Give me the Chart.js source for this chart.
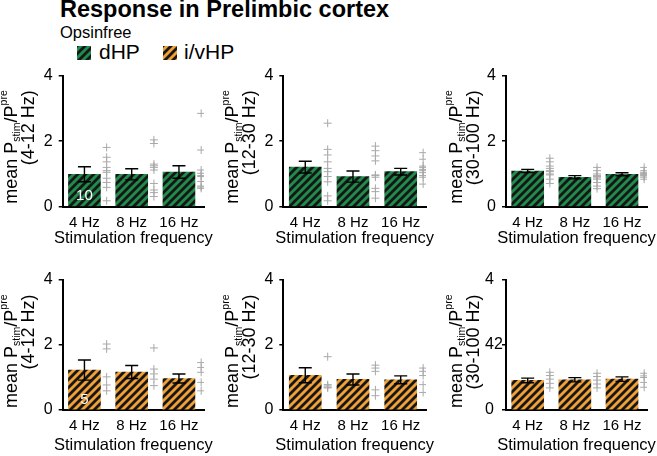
<!DOCTYPE html>
<html>
<head>
<meta charset="utf-8">
<script src="https://cdn.jsdelivr.net/npm/chart.js@4.4.0/dist/chart.umd.min.js"></script>
<style>
  body { margin: 0; width: 657px; height: 456px; background: #fff; position: relative; overflow: hidden;
         font-family: "Liberation Sans", Arial, sans-serif; color: #000; }
  .txt { position: absolute; white-space: nowrap; }
  #title { left: 60px; top: -3px; font-size: 23.5px; line-height: 24px; font-weight: bold; }
  #group { left: 60px; top: 24px; font-size: 16.5px; line-height: 16px; }
  .lg { top: 41px; font-size: 21px; line-height: 21px; }
  canvas { position: absolute; }
</style>
</head>
<body>
<div class="txt" id="title">Response in Prelimbic cortex</div>
<div class="txt" id="group">Opsinfree</div>
<canvas id="sw0" width="14" height="14" style="left:77px;top:46px"></canvas>
<div class="txt lg" style="left:99px">dHP</div>
<canvas id="sw1" width="14" height="14" style="left:163px;top:46px"></canvas>
<div class="txt lg" style="left:184px">i/vHP</div>

<canvas id="c0"></canvas><canvas id="c1"></canvas><canvas id="c2"></canvas>
<canvas id="c3"></canvas><canvas id="c4"></canvas><canvas id="c5"></canvas>

<script>
const freqLabels = ["4 Hz", "8 Hz", "16 Hz"];
const bandLabels = ["(4-12 Hz)", "(12-30 Hz)", "(30-100 Hz)"];
const xTitle = "Stimulation frequency";
const yTicks = [0, 2, 4];
const yTickText = ["0", "2", "4"];
const yTickTextLast = ["0", "42", "4"]; // printed like this in the last panel
const groupNames = ["dHP", "i/vHP"];
const groupN = ["10", "5"];

// bar means and SEM, order 4 / 8 / 16 Hz
const dhpLowMean = [0.99, 0.99, 1.06];
const dhpLowSem = [0.23, 0.17, 0.19];
const dhpBetaMean = [1.21, 0.92, 1.07];
const dhpBetaSem = [0.18, 0.17, 0.10];
const dhpGammaMean = [1.09, 0.90, 0.99];
const dhpGammaSem = [0.05, 0.05, 0.045];
const ivhpLowMean = [1.23, 1.17, 0.97];
const ivhpLowSem = [0.31, 0.20, 0.14];
const ivhpBetaMean = [1.07, 0.94, 0.93];
const ivhpBetaSem = [0.23, 0.17, 0.12];
const ivhpGammaMean = [0.91, 0.93, 0.95];
const ivhpGammaSem = [0.07, 0.065, 0.07];

// single animals
const dhpLowPts = [
  [1.81, 1.51, 1.37, 1.20, 1.10, 1.05, 0.87, 0.74, 0.59, 0.18],
  [2.04, 1.93, 1.30, 1.25, 1.20, 1.12, 0.71, 0.51, 0.43, 0.31],
  [2.85, 1.73, 1.12, 1.02, 0.95, 0.92, 0.77, 0.63, 0.60, 0.56]
];
const dhpBetaPts = [
  [2.55, 1.75, 1.58, 1.37, 1.17, 1.07, 0.92, 0.76, 0.33, 0.18],
  [1.85, 1.71, 1.55, 1.40, 0.97, 0.95, 0.90, 0.56, 0.46, 0.26],
  [1.65, 1.45, 1.24, 1.20, 1.14, 1.10, 1.04, 0.95, 0.90, 0.69]
];
const dhpGammaPts = [
  [1.48, 1.37, 1.24, 1.17, 1.10, 1.07, 1.00, 0.97, 0.84, 0.71],
  [1.20, 1.10, 1.00, 0.95, 0.92, 0.88, 0.84, 0.74, 0.63, 0.55],
  [1.20, 1.10, 1.05, 1.02, 1.00, 0.98, 0.96, 0.94, 0.90, 0.84]
];
const ivhpLowPts = [
  [2.03, 1.88, 1.02, 0.77, 0.59],
  [1.91, 1.26, 1.11, 0.95, 0.75],
  [1.46, 1.31, 1.16, 0.85, 0.59]
];
const ivhpBetaPts = [
  [1.64, 0.78, 0.74, 0.70, 0.68],
  [1.38, 1.29, 1.19, 0.62, 0.44],
  [1.29, 1.19, 1.06, 0.78, 0.54]
];
const ivhpGammaPts = [
  [1.16, 1.06, 0.95, 0.82, 0.68],
  [1.13, 1.03, 0.92, 0.80, 0.68],
  [1.13, 1.05, 1.00, 0.85, 0.70]
];

const FONT = "'Liberation Sans', Arial, sans-serif";
Chart.defaults.font.family = FONT;
Chart.defaults.color = "#000";

function hatch(color) {
  const c = document.createElement("canvas");
  c.width = c.height = 8;
  const g = c.getContext("2d");
  g.fillStyle = color;
  g.fillRect(0, 0, 8, 8);
  g.strokeStyle = "#161616";
  g.lineWidth = 2.8;
  g.beginPath();
  g.moveTo(-2, 10); g.lineTo(10, -2);
  g.moveTo(-2, 2); g.lineTo(2, -2);
  g.moveTo(6, 10); g.lineTo(10, 6);
  g.stroke();
  return document.createElement("canvas").getContext("2d").createPattern(c, "repeat");
}
const fills = [hatch("#1f8c4c"), hatch("#f0a035")];

// legend swatches
["sw0", "sw1"].forEach((id, i) => {
  const g = document.getElementById(id).getContext("2d");
  g.fillStyle = fills[i];
  g.fillRect(0, 0, 14, 14);
});

// layout of the 2x3 grid (pixel positions of the axes)
const cols = [
  { left: 0, axisX: 62.7, endX: 204, labelDx: -51 },
  { left: 220, axisX: 283.3, endX: 426, labelDx: -50 },
  { left: 440, axisX: 506, endX: 647, labelDx: -49 }
];
const rows = [
  { top: 60, height: 190, plotTop: 75.7, plotBottom: 206.7, titleDy: 31.8 },
  { top: 264, height: 192, plotTop: 280, plotBottom: 410, titleDy: 35.5 }
];
const CW = 217, XH = 30;

const panels = [
  { g: 0, band: 0, mean: dhpLowMean, sem: dhpLowSem, pts: dhpLowPts, nLabel: true },
  { g: 0, band: 1, mean: dhpBetaMean, sem: dhpBetaSem, pts: dhpBetaPts },
  { g: 0, band: 2, mean: dhpGammaMean, sem: dhpGammaSem, pts: dhpGammaPts },
  { g: 1, band: 0, mean: ivhpLowMean, sem: ivhpLowSem, pts: ivhpLowPts, nLabel: true },
  { g: 1, band: 1, mean: ivhpBetaMean, sem: ivhpBetaSem, pts: ivhpBetaPts },
  { g: 1, band: 2, mean: ivhpGammaMean, sem: ivhpGammaSem, pts: ivhpGammaPts, last: true }
];

// error bars, n label, axis titles (the x title is wider than the axis, so no maxWidth squeeze)
function decor(p, col, row) {
  return {
    id: "decor",
    afterDatasetsDraw(chart) {
      const { ctx, scales: { x, y } } = chart;
      ctx.save();
      ctx.strokeStyle = "#000";
      ctx.lineWidth = 1.4;
      p.mean.forEach((m, i) => {
        const px = x.getPixelForValue(i + 1);
        const top = y.getPixelForValue(m + p.sem[i]);
        const bot = y.getPixelForValue(m - p.sem[i]);
        ctx.beginPath();
        ctx.moveTo(px, top); ctx.lineTo(px, bot);
        ctx.moveTo(px - 6.5, top); ctx.lineTo(px + 6.5, top);
        ctx.moveTo(px - 6.5, bot); ctx.lineTo(px + 6.5, bot);
        ctx.stroke();
      });
      if (p.nLabel) {
        ctx.fillStyle = "#fff";
        ctx.font = "15px " + FONT;
        ctx.textAlign = "center";
        ctx.textBaseline = "middle";
        ctx.fillText(groupN[p.g], x.getPixelForValue(1), y.getPixelForValue(0) - 10.5);
      }
      ctx.restore();
    },
    afterDraw(chart) {
      const { ctx, chartArea } = chart;
      const big = "18px " + FONT, small = "10.5px " + FONT;
      ctx.save();
      ctx.fillStyle = "#000";
      ctx.font = "16.5px " + FONT;
      ctx.textAlign = "center";
      ctx.textBaseline = "middle";
      ctx.fillText(xTitle, (chartArea.left + chartArea.right) / 2, chartArea.bottom + row.titleDy);

      ctx.translate(chartArea.left, chartArea.top + 14.5);
      ctx.rotate(-Math.PI / 2);
      ctx.textAlign = "left";
      const parts = [["mean P", big, 0], ["stim", small, 5.5], ["/P", big, 0], ["pre", small, -7.5]];
      let total = 0;
      parts.forEach(([t, f]) => { ctx.font = f; total += ctx.measureText(t).width; });
      let u = -total;
      parts.forEach(([t, f, dv]) => {
        ctx.font = f;
        ctx.fillText(t, u, col.labelDx + dv);
        u += ctx.measureText(t).width;
      });
      ctx.font = big;
      ctx.textAlign = "right";
      ctx.fillText(bandLabels[p.band], 0, col.labelDx + 17);
      ctx.restore();
    }
  };
}

panels.forEach((p, k) => {
  const col = cols[k % 3], row = rows[Math.floor(k / 3)];
  const cv = document.getElementById("c" + k);
  cv.width = CW;
  cv.height = row.height;
  cv.style.left = col.left + "px";
  cv.style.top = row.top + "px";
  const tickText = p.last ? yTickTextLast : yTickText;
  const yw = p.last ? 21 : 30;
  const scatter = [];
  p.pts.forEach((arr, i) => arr.forEach(v => scatter.push({ x: i + 1.47, y: v })));

  new Chart(cv, {
    type: "bar",
    data: {
      datasets: [
        {
          type: "bar",
          data: p.mean.map((m, i) => ({ x: i + 1, y: m })),
          backgroundColor: fills[p.g],
          borderWidth: 0,
          barThickness: 32
        },
        {
          type: "scatter",
          data: scatter,
          pointStyle: "cross",
          pointRadius: 4,
          borderColor: "#a9a9a9",
          backgroundColor: "#a9a9a9",
          borderWidth: 1
        }
      ]
    },
    options: {
      responsive: false,
      animation: false,
      devicePixelRatio: 1,
      layout: {
        padding: {
          left: col.axisX - col.left - yw,
          right: CW - (col.endX - col.left),
          top: row.plotTop - row.top,
          bottom: row.height - (row.plotBottom - row.top) - XH
        }
      },
      plugins: { legend: { display: false }, tooltip: { enabled: false } },
      scales: {
        x: {
          type: "linear",
          offset: false,
          min: 0.54,
          max: 3.53,
          afterBuildTicks: s => { s.ticks = [1, 2, 3].map(v => ({ value: v })); },
          afterFit: s => { s.height = XH; },
          grid: { display: false, drawTicks: false, offset: false },
          border: { display: true, color: "#000", width: 2 },
          ticks: {
            font: { size: 15 },
            color: "#000",
            padding: 7,
            maxRotation: 0,
            autoSkip: false,
            callback: (v, i) => freqLabels[i]
          }
        },
        y: {
          min: 0,
          max: 4,
          afterBuildTicks: s => { s.ticks = yTicks.map(v => ({ value: v })); },
          afterFit: s => { s.width = yw; },
          grid: { drawOnChartArea: false, drawTicks: true, tickLength: 4, color: "#000", lineWidth: 1.5 },
          border: { display: true, color: "#000", width: 2 },
          ticks: {
            font: { size: 16 },
            color: "#000",
            padding: 6,
            crossAlign: p.last ? "far" : "near",
            callback: (v, i) => tickText[i]
          }
        }
      }
    },
    plugins: [decor(p, col, row)]
  });
});
</script>
</body>
</html>
